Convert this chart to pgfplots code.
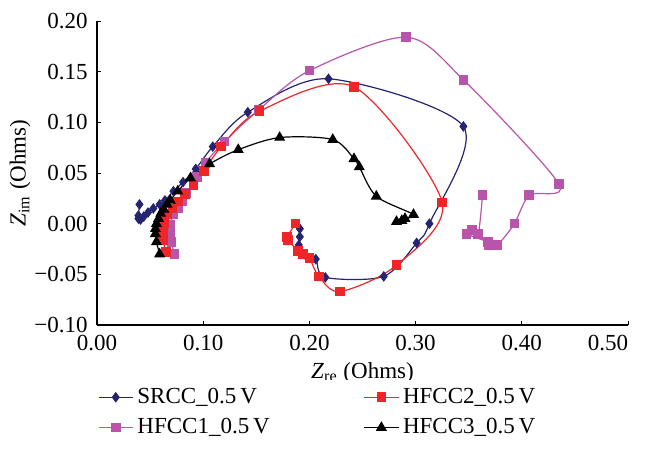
\documentclass[border=0pt]{standalone}
\usepackage{fontspec}
\setmainfont{Liberation Serif}
\usepackage{pgfplots}
\pgfplotsset{compat=1.18}
\definecolor{srcc}{RGB}{36,36,112}
\definecolor{hfone}{RGB}{184,84,170}
\definecolor{hftwo}{RGB}{238,38,40}
\begin{document}
\begin{tikzpicture}
\begin{axis}[
  name=ax,
  scale only axis,
  width=265.5pt, height=152pt,
  xmin=0, xmax=0.5, ymin=-0.1, ymax=0.2,
  axis lines=left,
  axis line style={-, black, line width=0.6pt},
  tick style={black, line width=0.5pt},
  major tick length=2.2pt,
  tick align=inside,
  tick label style={font=\fontsize{11.5}{13}\selectfont},
  xticklabel style={yshift=-1.5pt},
  yticklabel style={xshift=-1.2pt},
  label style={font=\fontsize{11.5}{13}\selectfont},
  xtick={0,0.1,0.2,0.3,0.4,0.5},
  xticklabels={0.00,0.10,0.20,0.30,0.40,\makebox[0pt][r]{0.50}},
  ytick={-0.1,-0.05,0,0.05,0.1,0.15,0.2},
  yticklabels={−0.10,−0.05,0.00,0.05,0.10,0.15,0.20},
  xlabel={\textit{Z}\textsubscript{re} (Ohms)},
  ylabel={\textit{Z}\textsubscript{im} (Ohms)},
  ylabel shift=-5pt,
  xlabel shift=-1pt,
  legend columns=2,
  legend transposed=true,
  legend cell align=left,
  legend style={draw=none, font=\fontsize{11.5}{13}\selectfont,
    at={(rel axis cs:-0.01,-0.18)}, anchor=north west,
    /tikz/every even column/.append style={column sep=45pt},
    row sep=2pt},
  every axis plot/.append style={smooth, line width=0.6pt},
]
% SRCC
\addplot[color=srcc, mark=diamond*, mark size=2.2pt] coordinates {
(0.040,0.019) (0.039,0.008) (0.039,0.005) (0.041,0.004) (0.044,0.007)
(0.048,0.011) (0.053,0.015) (0.059,0.019) (0.064,0.023) (0.072,0.032)
(0.081,0.041) (0.093,0.054) (0.109,0.076) (0.142,0.110) (0.218,0.143)
(0.345,0.096) (0.313,0.000) (0.301,-0.019) (0.270,-0.052) (0.215,-0.053)
(0.206,-0.035) (0.197,-0.032) (0.190,-0.021) (0.191,-0.013) (0.191,-0.005)
};
\addlegendentry{SRCC\_0.5\,V}
% HFCC1
\addplot[color=hfone, mark=square*, mark size=2.1pt] coordinates {
(0.073,-0.030) (0.070,-0.018) (0.069,-0.008) (0.069,-0.001) (0.072,0.009)
(0.076,0.015) (0.080,0.022) (0.084,0.030) (0.094,0.046) (0.102,0.060)
(0.120,0.081) (0.152,0.112) (0.200,0.151) (0.291,0.184) (0.345,0.142)
(0.435,0.039) (0.407,0.028) (0.393,0.000) (0.377,-0.021) (0.369,-0.021)
(0.368,-0.018) (0.348,-0.010) (0.353,-0.006) (0.359,-0.010) (0.363,0.028)
};
\addlegendentry{HFCC1\_0.5\,V}
% HFCC2
\addplot[color=hftwo, mark=square*, mark size=2.1pt] coordinates {
(0.065,-0.028) (0.062,-0.016) (0.062,-0.008) (0.063,0.000) (0.066,0.009)
(0.071,0.015) (0.076,0.022) (0.083,0.029) (0.091,0.038) (0.101,0.052)
(0.117,0.076) (0.153,0.111) (0.242,0.135) (0.325,0.021) (0.282,-0.041)
(0.229,-0.067) (0.209,-0.052) (0.200,-0.034) (0.194,-0.030) (0.189,-0.027)
(0.180,-0.016) (0.179,-0.013) (0.187,0.000)
};
\addlegendentry{HFCC2\_0.5\,V}
% HFCC3
\addplot[color=black, mark=triangle*, mark size=2.6pt] coordinates {
(0.059,-0.030) (0.056,-0.018) (0.055,-0.010) (0.055,-0.005) (0.056,0.000)
(0.058,0.005) (0.060,0.010) (0.063,0.014) (0.066,0.019) (0.069,0.023)
(0.076,0.032) (0.088,0.045) (0.106,0.059) (0.133,0.073) (0.172,0.085)
(0.222,0.083) (0.242,0.064) (0.247,0.056) (0.263,0.027) (0.298,0.009)
(0.290,0.005) (0.287,0.003) (0.282,0.002)
};
\addlegendentry{HFCC3\_0.5\,V}
\end{axis}
\path ([shift={(-48.5pt,-65pt)}]ax.south west) rectangle ([shift={(8.5pt,10.5pt)}]ax.north east);
\end{tikzpicture}
\end{document}
